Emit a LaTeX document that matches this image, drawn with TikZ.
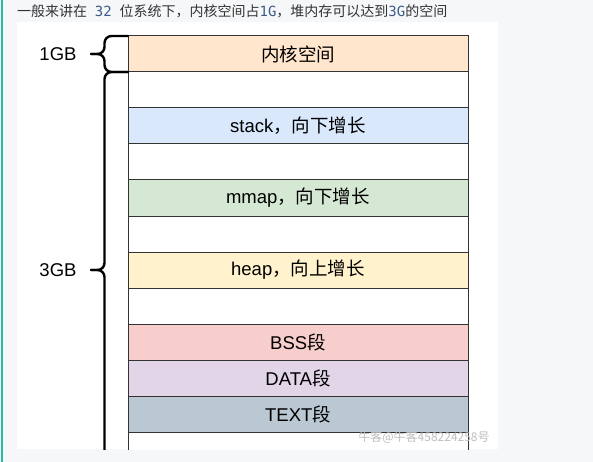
\documentclass[tikz,border=0pt]{standalone}
\usepackage{fontspec}
\setmainfont{Liberation Sans}
\setmonofont{DejaVu Sans Mono}
\newfontfamily\cjk{Noto Sans CJK SC}
\usetikzlibrary{positioning}
\tikzset{seg/.style = {draw=black!80, line width=1pt, minimum width=340, minimum height=36, inner sep=0, outer sep=0, font=\fontsize{18.5}{18.5}\selectfont}}
\tikzset{brace/.style = {line width=2.4pt, rounded corners=7pt, line cap=round}}
\definecolor{mpeach}{HTML}{FFE6CC}
\definecolor{mblue}{HTML}{DAE8FC}
\definecolor{mgreen}{HTML}{D5E8D4}
\definecolor{myellow}{HTML}{FFF2CC}
\definecolor{mred}{HTML}{F8CECC}
\definecolor{mpurple}{HTML}{E1D5E7}
\definecolor{mslate}{HTML}{BAC8D3}
\definecolor{mpage}{HTML}{F5F7F9}
\definecolor{mteal}{HTML}{1FBF9C}
\definecolor{mcode}{HTML}{3D5A87}
\newcommand{\code}[1]{{\ttfamily\color{mcode}#1}}

\begin{document}
\begin{tikzpicture}[x=1pt, y=-1pt]
       \useasboundingbox (0, 0) rectangle (593, 462);
       \fill [mpage] (0, 0) rectangle (593, 462);
       \fill [mteal] (0.5, 0) rectangle (2.8, 462);
       \node [anchor = west, inner sep = 0, text = black!80, font = \fontsize{14}{14}\selectfont] (title) at (17, 11)
             {{\cjk 一般来讲在}\ \ \code{32}\ \ {\cjk 位系统下，内核空间占}\code{1G}{\cjk ，堆内存可以达到}\code{3G}{\cjk 的空间}};
       \fill [white] (17, 22) rectangle (498, 449);

       \begin{scope}
       \clip (17, 22) rectangle (498, 449);
       \node [seg, fill = mpeach] (kernel) at (298, 54) {\cjk 内核空间};
       \node [seg, fill = white, below = 0pt of kernel] (gap1) {};
       \node [seg, fill = mblue, below = 0pt of gap1] (stack) {stack{\cjk ，向下增长}};
       \node [seg, fill = white, below = 0pt of stack] (gap2) {};
       \node [seg, fill = mgreen, below = 0pt of gap2] (mmap) {mmap{\cjk ，向下增长}};
       \node [seg, fill = white, below = 0pt of mmap] (gap3) {};
       \node [seg, fill = myellow, below = 0pt of gap3] (heap) {heap{\cjk ，向上增长}};
       \node [seg, fill = white, below = 0pt of heap] (gap4) {};
       \node [seg, fill = mred, below = 0pt of gap4] (bss) {BSS{\cjk 段}};
       \node [seg, fill = mpurple, below = 0pt of bss] (data) {DATA{\cjk 段}};
       \node [seg, fill = mslate, below = 0pt of data] (text) {TEXT{\cjk 段}};
       \node [seg, fill = white, below = 0pt of text] (gap5) {};

       % braces on the left
       \draw [brace] (kernel.north west) -- ++(-23.5, 0) -- ++(0, 18) -- ++(-13.5, 0);
       \draw [brace] (kernel.south west) -- ++(-23.5, 0) -- ++(0, -18) -- ++(-13.5, 0);
       \draw [brace] (gap1.north west) -- ++(-23.5, 0) -- ++(0, 198) -- ++(-13.5, 0);
       \draw [brace] (gap5.south west) -- ++(-23.5, 0) -- ++(0, -198) -- ++(-13.5, 0);
       \end{scope}

       \node [font = \fontsize{18.5}{18.5}\selectfont] (gb1) at (58, 54) {1GB};
       \node [font = \fontsize{18.5}{18.5}\selectfont] (gb3) at (58, 270) {3GB};

       \node [text = gray!50, font = \fontsize{12}{12}\selectfont] (mark) at (424, 437) {\cjk 牛客@牛客458224258号};
\end{tikzpicture}
\end{document}
